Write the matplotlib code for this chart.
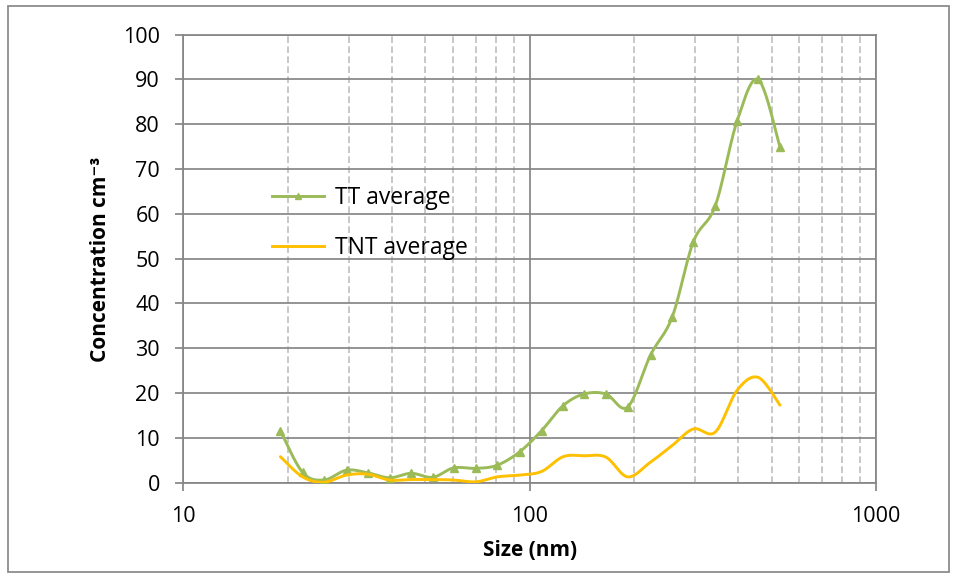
import numpy as np
import matplotlib
matplotlib.use("Agg")
import matplotlib.pyplot as plt
from matplotlib.ticker import FixedLocator, NullFormatter, FixedFormatter
from matplotlib.patches import Rectangle

# ---- data ----
sizes = [19.07, 22.1, 25.45, 29.6, 34.1, 39.4, 45.5, 52.5, 60.3, 70.0, 80.6, 93.6,
         108.2, 124.9, 143.6, 166.1, 191.9, 223.4, 258.0, 297.0, 343.5, 397.0, 457.0, 528.0]
tt_avg = [11.6, 2.3, 0.6, 2.8, 2.2, 1.1, 2.1, 1.2, 3.3, 3.2, 3.9, 6.9,
          11.6, 17.2, 19.8, 19.8, 16.9, 28.5, 37.0, 53.8, 61.8, 80.7, 90.0, 75.0]
tnt_avg = [5.8, 1.3, 0.1, 1.7, 1.9, 0.6, 0.7, 0.7, 0.6, 0.2, 1.3, 1.7,
           2.5, 5.8, 6.0, 5.7, 1.3, 4.6, 8.3, 12.0, 11.3, 20.6, 23.5, 17.3]
series_names = ["TT average", "TNT average"]
x_ticks = [10, 100, 1000]
x_ticklabels = ["10", "100", "1000"]
y_ticks = list(range(0, 101, 10))

GREEN = "#9BBB59"
GOLD = "#FFC000"
GRID = "#868686"
MINOR = "#BFBFBF"


def smooth(x, y, n=24):
    """Excel-like smoothing: Catmull-Rom through the points in (log x, y) space."""
    lx = np.log10(np.asarray(x, float))
    yy = np.asarray(y, float)
    P = np.column_stack([lx, yy])
    P = np.vstack([P[0], P, P[-1]])
    out = []
    t = np.linspace(0, 1, n, endpoint=False)
    for i in range(1, len(P) - 2):
        p0, p1, p2, p3 = P[i - 1], P[i], P[i + 1], P[i + 2]
        c1 = p1 + (p2 - p0) / 6.0
        c2 = p2 - (p3 - p1) / 6.0
        seg = ((1 - t) ** 3)[:, None] * p1 + (3 * (1 - t) ** 2 * t)[:, None] * c1 \
            + (3 * (1 - t) * t ** 2)[:, None] * c2 + (t ** 3)[:, None] * p2
        out.append(seg)
    out.append(P[-2][None, :])
    out = np.vstack(out)
    return 10 ** out[:, 0], out[:, 1]


plt.rcParams["font.family"] = ["Open Sans", "DejaVu Sans"]

fig = plt.figure(figsize=(9.56, 5.79), dpi=100)
ax = fig.add_axes([183.3 / 956, 1 - 482.7 / 579, (876 - 183.3) / 956, (482.7 - 34.7) / 579])

ax.set_xscale("log")
ax.set_xlim(10, 1000)
ax.set_ylim(0, 100)
ax.xaxis.set_major_locator(FixedLocator(x_ticks))
ax.xaxis.set_major_formatter(FixedFormatter(x_ticklabels))
minor = [v * d for d in (10, 100) for v in range(2, 10)]
ax.xaxis.set_minor_locator(FixedLocator(minor))
ax.xaxis.set_minor_formatter(NullFormatter())
ax.set_yticks(y_ticks)

ax.set_axisbelow(True)
ax.grid(which="major", axis="both", color=GRID, lw=1.25)
ax.grid(which="minor", axis="x", color=MINOR, lw=1.2, ls=(0, (4, 2)))
ax.tick_params(which="major", direction="out", length=5.8, width=1.25, color=GRID,
               pad=11, labelsize=15.5, labelcolor="black")
ax.tick_params(which="minor", length=0)
for s in ax.spines.values():
    s.set_color(GRID)
    s.set_linewidth(1.25)

# TT series
sx, sy = smooth(sizes, tt_avg)
ax.plot(sx, sy, color=GREEN, lw=2.1, solid_capstyle="round", zorder=3)
ax.plot(sizes, tt_avg, ls="none", marker="^", ms=5.5, color=GREEN, zorder=3)
# TNT series
sx2, sy2 = smooth(sizes, tnt_avg)
ax.plot(sx2, sy2, color=GOLD, lw=2.1, solid_capstyle="round", zorder=4)

# legend
h1 = plt.Line2D([], [], color=GREEN, lw=2.1, marker="^", ms=4.5)
h2 = plt.Line2D([], [], color=GOLD, lw=2.1)
ax.legend([h1, h2], series_names, loc="center left",
          bbox_to_anchor=(271.7 / 956, 1 - 223 / 579), bbox_transform=fig.transFigure,
          frameon=False, fontsize=16.5, handlelength=2.3, handletextpad=0.48,
          labelspacing=1.1, borderpad=0, borderaxespad=0, numpoints=1)

ax.set_xlabel("Size (nm)", fontsize=15, fontweight="bold")
ax.xaxis.set_label_coords(0.5, (482.7 - 550) / 448)
ax.xaxis.label.set_va("center")
ax.set_ylabel("Concentration cm\u207b\u00b3", fontsize=15, fontweight="bold")
ax.yaxis.set_label_coords((100 - 183.3) / 692.7, (482.7 - 259) / 448)
ax.yaxis.label.set_va("center")

fig.patches.append(Rectangle((7.7 / 956, 1 - 572 / 579), (949 - 7.7) / 956, (572 - 5.7) / 579,
                             transform=fig.transFigure, fill=False, ec="#8c8c8c", lw=1.3))

fig.savefig("out.png", dpi=100)
